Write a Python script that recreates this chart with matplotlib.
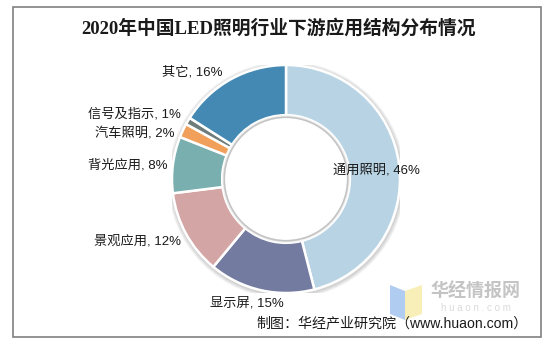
import matplotlib
matplotlib.use("Agg")
import matplotlib.pyplot as plt
from matplotlib.patches import Circle, Rectangle, Polygon
import numpy as np

categories = ["通用照明", "显示屏", "景观应用", "背光应用", "汽车照明", "信号及指示", "其它"]
values = [46, 15, 12, 8, 2, 1, 16]
colors = ["#B8D4E4", "#737BA0", "#D4A5A5", "#79AFAE", "#F0A05A", "#6E7C7C", "#4389B4"]
title = "2020年中国LED照明行业下游应用结构分布情况"
source = "制图：华经产业研究院（www.huaon.com）"

sans = ["Liberation Sans", "Noto Sans CJK SC", "DejaVu Sans"]
serif = ["Liberation Serif", "Noto Sans CJK SC", "DejaVu Sans"]

W, H = 558, 355
fig = plt.figure(figsize=(W / 100, H / 100), dpi=100)
fig.patch.set_facecolor("white")

# frame
fig.add_artist(Rectangle((13 / W, 1 - 337 / H), (541 - 13) / W, (337 - 7) / H,
                         transform=fig.transFigure, fill=False,
                         edgecolor="#808080", linewidth=1.2))

cx, cy, r = 286, 179, 114
ax = fig.add_axes([(cx - r) / W, (H - cy - r) / H, 2 * r / W, 2 * r / H])
ax.set_xlim(-1, 1)
ax.set_ylim(-1, 1)
ax.set_aspect("equal")
ax.axis("off")

# soft shadow
for i, a in enumerate([0.04, 0.05, 0.06]):
    ax.add_patch(Circle((0.005, -0.01), 1.0 + 0.012 * (3 - i), color="#000000", alpha=a, zorder=0))

wedges, _ = ax.pie(values, colors=colors, startangle=90, counterclock=False,
                   radius=1.0,
                   wedgeprops=dict(width=0.44, edgecolor="white", linewidth=1.8))
for w in wedges:
    w.set_zorder(2)
# inner shadow (subtle)
for i, a in enumerate([0.03, 0.03, 0.03]):
    ax.add_patch(Circle((0, 0), 0.555 - 0.01 * i, color="#000000", alpha=a, zorder=3))
ax.add_patch(Circle((0, 0), 0.528, color="white", zorder=4))
ax.set_xlim(-1, 1)
ax.set_ylim(-1, 1)

# labels
label_pos = {
    "通用照明": (376, 170, "center"),
    "显示屏": (247, 303, "center"),
    "景观应用": (137, 241, "center"),
    "背光应用": (128, 165, "center"),
    "汽车照明": (135, 133, "center"),
    "信号及指示": (134, 114, "center"),
    "其它": (192, 72, "center"),
}
for cat, v in zip(categories, values):
    x, y, ha = label_pos[cat]
    fig.text(x / W, 1 - y / H, f"{cat}, {v}%", ha=ha, va="center",
             fontsize=9.5, family=sans, color="#1a1a1a", zorder=10)

fig.text(279 / W, 1 - 28 / H, title, ha="center", va="center",
         fontsize=13.5, fontweight="bold", family=serif, color="#1a1a1a")

# watermark
fig.add_artist(Polygon([(390 / W, 1 - 285 / H), (405 / W, 1 - 291 / H), (405 / W, 1 - 320 / H), (390 / W, 1 - 314 / H)],
                       closed=True, transform=fig.transFigure, facecolor="#A8C8F0", edgecolor="none", alpha=0.9))
fig.add_artist(Polygon([(405 / W, 1 - 291 / H), (422 / W, 1 - 285 / H), (422 / W, 1 - 314 / H), (405 / W, 1 - 320 / H)],
                       closed=True, transform=fig.transFigure, facecolor="#F8EDB0", edgecolor="none", alpha=0.9))
fig.text(476 / W, 1 - 292 / H, "华经情报网", ha="center", va="center", fontsize=13,
         fontweight="bold", family=sans, color="#C4C4C4")
fig.text(476 / W, 1 - 308 / H, "h u a o n . c o m", ha="center", va="center", fontsize=7,
         family=sans, color="#DADADA")

fig.text(528 / W, 1 - 323 / H, source, ha="right", va="center",
         fontsize=10.1, family=sans, color="#1a1a1a")

fig.savefig("out.png", dpi=100, facecolor="white")
